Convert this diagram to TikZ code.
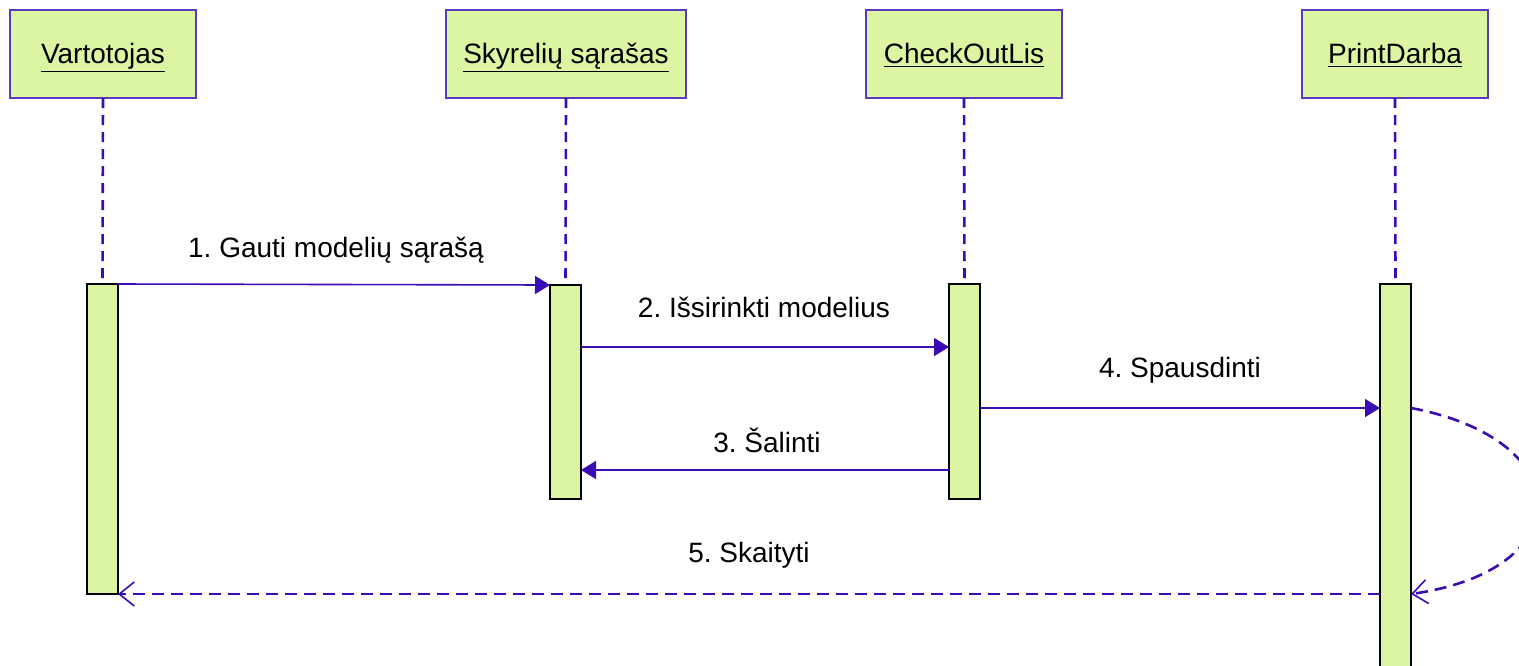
\documentclass[tikz,border=0pt]{standalone}
\usepackage{fontspec}
\setmainfont{Liberation Sans}
\usetikzlibrary{arrows.meta}
\definecolor{boxfill}{RGB}{220,245,162}
\definecolor{boxedge}{RGB}{92,58,192}
\definecolor{msgcol}{RGB}{58,12,180}
\tikzset{
  x=0.5pt, y=-0.5pt,
  every node/.style={font=\fontsize{14}{16}\selectfont, inner sep=0pt, outer sep=0pt},
  header/.style={draw=boxedge, line width=1pt, fill=boxfill,
    minimum width=93pt, minimum height=44pt, anchor=north west},
  actbar/.style={draw=black, line width=1pt, fill=boxfill,
    minimum width=15.5pt, anchor=north west},
  lifeline/.style={draw=msgcol, line width=1.3pt, dash pattern=on 5pt off 3.5pt},
  syncmsg/.style={draw=msgcol, line width=0.8pt, -{Triangle[length=7.5pt,width=9pt]}},
  retmsg/.style={draw=msgcol, line width=1.3pt, dash pattern=on 6pt off 3.5pt,
    -{Straight Barb[length=7.5pt,width=12pt,line width=0.8pt]}},
  msglabel/.style={anchor=base}
}
\begin{document}
\frenchspacing
\begin{tikzpicture}
\useasboundingbox (0,0) rectangle (1519,665);
\clip (0,0) rectangle (1519,665);

% object headers
\node[header] (hA) at (10,10)   {};
\node[header, minimum width=120pt] (hB) at (446,10)  {};
\node[header, minimum width=98pt] (hC) at (866,10)  {};
\node[header] (hD) at (1302,10) {};
\node[anchor=base] (tA) at (hA.center |- 0,63) {\underline{Vartotojas}};
\node[anchor=base] (tB) at (hB.center |- 0,63) {\underline{Skyrelių sąrašas}};
\node[anchor=base] (tC) at (hC.center |- 0,63) {\underline{CheckOutLis}};
\node[anchor=base] (tD) at (hD.center |- 0,63) {\underline{PrintDarba}};

% activation bars
\node[actbar, minimum height=155pt] (bA) at (87,284)   {};
\node[actbar, minimum height=107pt] (bB) at (550,285)  {};
\node[actbar, minimum height=107.5pt] (bC) at (949,284) {};
\node[actbar, minimum height=200pt] (bD) at (1380,284) {};

% lifelines
\draw[lifeline] (hA.south) -- (bA.north);
\draw[lifeline] (hB.south) -- (bB.north);
\draw[lifeline] (hC.south) -- (bC.north);
\draw[lifeline] (hD.south) -- (bD.north);

% messages
\draw[syncmsg] (bA.north east) -- (bB.north west);
\node[msglabel] (l1) at (336,257) {1. Gauti modelių sąrašą};

\draw[syncmsg] (bB.east |- 0,347) -- (bC.west |- 0,347);
\node[msglabel] (l2) at (764,317) {2. Išsirinkti modelius};

\draw[syncmsg] (bC.east |- 0,408) -- (bD.west |- 0,408);
\node[msglabel] (l4) at (1180,377) {4. Spausdinti};

\draw[syncmsg] (bC.west |- 0,470) -- (bB.east |- 0,470);
\node[msglabel] (l3) at (767,452) {3. Šalinti};

% self call and return
\draw[retmsg] (bD.east |- 0,408) .. controls (1580,440) and (1580,570) .. (bD.east |- 0,594);
\draw[retmsg] (bD.west |- 0,594) -- (bA.south east);
\node[msglabel] (l5) at (749,562) {5. Skaityti};
\end{tikzpicture}
\end{document}
